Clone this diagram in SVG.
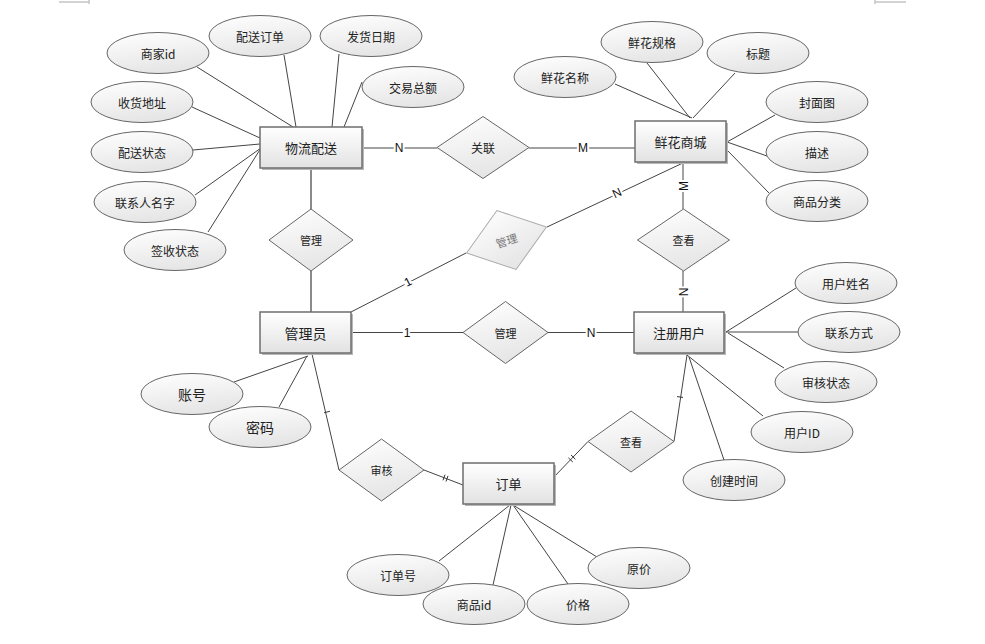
<svg xmlns="http://www.w3.org/2000/svg" width="985" height="644" viewBox="0 0 985 644">
<defs>
<linearGradient id="gr" x1="0" y1="0" x2="0" y2="1"><stop offset="0" stop-color="#ffffff"/><stop offset="1" stop-color="#e2e2e2"/></linearGradient>
<linearGradient id="ge" x1="0" y1="0" x2="0.3" y2="1"><stop offset="0" stop-color="#ffffff"/><stop offset="1" stop-color="#e6e6e6"/></linearGradient>
<style>
.ent rect.b{fill:url(#gr);stroke:#6e6e6e;stroke-width:1.5}
.ent rect.s{fill:#b8b8b8}
.att ellipse{fill:url(#ge);stroke:#666;stroke-width:1}
.rel polygon{fill:url(#ge);stroke:#666;stroke-width:1}
text{font-family:"Noto Sans CJK SC","Liberation Sans",sans-serif;text-anchor:middle;dominant-baseline:central;fill:#222}
.t12{font-size:12px}
.t13{font-size:13px}
.t14{font-size:14px}
.t11{font-size:11px}
.conn line{stroke:#444;stroke-width:1}
.conn line.thick{stroke:#8a8a8a;stroke-width:2}
.conn line.tk{stroke:#333;stroke-width:1}
.card{font-family:"Liberation Sans",Arial,sans-serif;font-size:12px;fill:#111;stroke:#fff;stroke-width:4;paint-order:stroke}
.mark{stroke:#c4c4c4;stroke-width:1.5}
</style>
</defs>
<rect x="0" y="0" width="985" height="644" fill="#fff"/>
<line class="mark" x1="59" y1="2" x2="89" y2="2"/><line class="mark" x1="89" y1="0" x2="89" y2="4"/>
<line class="mark" x1="875" y1="2" x2="906" y2="2"/><line class="mark" x1="875" y1="0" x2="875" y2="4"/>

<g id="connectors" class="conn">
<line x1="197" y1="67" x2="293" y2="127"/>
<line x1="284" y1="55" x2="296" y2="127"/>
<line x1="339" y1="54" x2="332" y2="127"/>
<line x1="362" y1="82" x2="344" y2="127"/>
<line x1="192" y1="107" x2="260" y2="138"/>
<line x1="193" y1="150" x2="260" y2="144"/>
<line x1="195" y1="195" x2="261" y2="148"/>
<line x1="208" y1="232" x2="261" y2="148"/>
<line x1="362" y1="148" x2="437" y2="148"/>
<line x1="529" y1="148" x2="635" y2="148"/>
<line class="thick" x1="311" y1="168" x2="311" y2="209"/>
<line class="thick" x1="311" y1="271" x2="311" y2="312"/>
<line x1="615" y1="84" x2="692" y2="118"/>
<line x1="647" y1="63" x2="690" y2="118"/>
<line x1="735" y1="73" x2="693" y2="118"/>
<line x1="775" y1="115" x2="727" y2="142"/>
<line x1="767" y1="156" x2="727" y2="142"/>
<line x1="769" y1="193" x2="727" y2="150"/>
<line x1="683" y1="162" x2="683" y2="209"/>
<line x1="683" y1="271" x2="683" y2="312"/>
<line x1="351" y1="312" x2="466" y2="253"/>
<line x1="547" y1="227" x2="685" y2="162"/>
<line x1="351" y1="332.5" x2="463" y2="332.5"/>
<line x1="548" y1="332.5" x2="634" y2="332.5"/>
<line x1="726" y1="332" x2="796" y2="288"/>
<line x1="726" y1="332" x2="798" y2="332"/>
<line x1="728" y1="333" x2="784" y2="368"/>
<line x1="687" y1="355" x2="763" y2="416"/>
<line x1="689" y1="357" x2="724" y2="460"/>
<line x1="687" y1="355" x2="674" y2="441.5"/>
<line x1="588" y1="441.5" x2="554" y2="477"/>
<line x1="312" y1="354" x2="339" y2="470"/>
<line x1="424" y1="470" x2="463" y2="485"/>
<line x1="234" y1="382" x2="308" y2="356"/>
<line x1="279" y1="407" x2="307" y2="356"/>
<line x1="439" y1="561" x2="510" y2="505"/>
<line x1="493" y1="585" x2="511" y2="505"/>
<line x1="568" y1="584" x2="513" y2="505"/>
<line x1="597" y1="557" x2="513" y2="505"/>
<line class="tk" x1="677" y1="396.6" x2="683" y2="397.4"/>
<line class="tk" x1="571" y1="455" x2="575.4" y2="459.2"/>
<line class="tk" x1="568.4" y1="457.8" x2="572.8" y2="462"/>
<line class="tk" x1="445" y1="474.7" x2="443" y2="480.3"/>
<line class="tk" x1="448" y1="475.9" x2="446" y2="481.5"/>
<line class="tk" x1="324.1" y1="412.7" x2="329.9" y2="411.3"/>
<text class="card" x="399" y="148">N</text>
<text class="card" x="583" y="148">M</text>
<text class="card" transform="translate(684,186) rotate(-90)">M</text>
<text class="card" transform="translate(684,292) rotate(-90)">N</text>
<text class="card" transform="translate(408,282) rotate(-27)">1</text>
<text class="card" transform="translate(617,193) rotate(-25)">N</text>
<text class="card" x="407" y="332.5">1</text>
<text class="card" x="591" y="332.5">N</text>
</g>

<g id="e-wuliu" class="ent"><rect class="s" x="262" y="129" width="102" height="41"/><rect class="b" x="260" y="127" width="102" height="41"/><text class="t13" x="311" y="147.5">物流配送</text></g>
<g id="e-shangcheng" class="ent"><rect class="s" x="637" y="123" width="91" height="41"/><rect class="b" x="635" y="121" width="91" height="41"/><text class="t13" x="680.5" y="141.5">鲜花商城</text></g>
<g id="e-guanliyuan" class="ent"><rect class="s" x="262" y="314" width="91" height="41"/><rect class="b" x="260" y="312" width="91" height="41"/><text class="t14" x="305.5" y="332.5">管理员</text></g>
<g id="e-yonghu" class="ent"><rect class="s" x="636" y="314" width="90" height="41"/><rect class="b" x="634" y="312" width="90" height="41"/><text class="t13" x="679" y="332.5">注册用户</text></g>
<g id="e-dingdan" class="ent"><rect class="s" x="465" y="465" width="91" height="41"/><rect class="b" x="463" y="463" width="91" height="41"/><text class="t13" x="508.5" y="483.5">订单</text></g>

<g id="r-guanlian" class="rel"><polygon points="437,147.5 483,116.5 529,147.5 483,178.5"/><text class="t12" x="483" y="147.5">关联</text></g>
<g id="r-guanli1" class="rel"><polygon points="269,240 311,209 353,240 311,271"/><text class="t11" x="311" y="240">管理</text></g>
<g id="r-guanli2" class="rel" transform="translate(506.5,240) rotate(-18)"><polygon points="-42,0 0,-31 42,0 0,31" style="stroke:#aaa"/><text class="t11" x="0" y="0" style="fill:#777">管理</text></g>
<g id="r-chakan1" class="rel"><polygon points="637.5,240 683.5,209 729.5,240 683.5,271"/><text class="t11" x="683.5" y="240">查看</text></g>
<g id="r-guanli3" class="rel"><polygon points="463,332.5 505.5,301.5 548,332.5 505.5,363.5"/><text class="t11" x="505.5" y="332.5">管理</text></g>
<g id="r-shenhe" class="rel"><polygon points="339,470 381.5,439 424,470 381.5,501"/><text class="t11" x="381.5" y="470">审核</text></g>
<g id="r-chakan2" class="rel"><polygon points="588,441.5 631,411 674,441.5 631,472"/><text class="t11" x="631" y="441.5">查看</text></g>

<g id="a-shangjiaid" class="att"><ellipse cx="158" cy="53" rx="51" ry="20.5"/><text class="t12" x="158" y="53">商家id</text></g>
<g id="a-peisongdingdan" class="att"><ellipse cx="260" cy="36" rx="51" ry="20.5"/><text class="t12" x="260" y="36">配送订单</text></g>
<g id="a-fahuoriqi" class="att"><ellipse cx="371" cy="36" rx="51" ry="20.5"/><text class="t12" x="371" y="36">发货日期</text></g>
<g id="a-jiaoyizonge" class="att"><ellipse cx="413" cy="87" rx="51" ry="20.5"/><text class="t12" x="413" y="87">交易总额</text></g>
<g id="a-shouhuodizhi" class="att"><ellipse cx="142" cy="102" rx="51" ry="20.5"/><text class="t12" x="142" y="102">收货地址</text></g>
<g id="a-peisongzhuangtai" class="att"><ellipse cx="142" cy="152" rx="51" ry="20.5"/><text class="t12" x="142" y="152">配送状态</text></g>
<g id="a-lianxiren" class="att"><ellipse cx="145" cy="202" rx="51" ry="20.5"/><text class="t12" x="145" y="202">联系人名字</text></g>
<g id="a-qianshou" class="att"><ellipse cx="175" cy="250" rx="51" ry="20.5"/><text class="t12" x="175" y="250">签收状态</text></g>
<g id="a-xianhuamingcheng" class="att"><ellipse cx="565" cy="77" rx="51" ry="20.5"/><text class="t12" x="565" y="77">鲜花名称</text></g>
<g id="a-xianhuaguige" class="att"><ellipse cx="652" cy="42" rx="51" ry="20.5"/><text class="t12" x="652" y="42">鲜花规格</text></g>
<g id="a-biaoti" class="att"><ellipse cx="758" cy="53" rx="51" ry="20.5"/><text class="t12" x="758" y="53">标题</text></g>
<g id="a-fengmian" class="att"><ellipse cx="817" cy="102" rx="51" ry="20.5"/><text class="t12" x="817" y="102">封面图</text></g>
<g id="a-miaoshu" class="att"><ellipse cx="817" cy="152" rx="51" ry="20.5"/><text class="t12" x="817" y="152">描述</text></g>
<g id="a-fenlei" class="att"><ellipse cx="817" cy="201" rx="51" ry="20.5"/><text class="t12" x="817" y="201">商品分类</text></g>
<g id="a-zhanghao" class="att"><ellipse cx="192" cy="394" rx="51" ry="20.5"/><text class="t14" x="192" y="394">账号</text></g>
<g id="a-mima" class="att"><ellipse cx="260" cy="427" rx="51" ry="20.5"/><text class="t14" x="260" y="427">密码</text></g>
<g id="a-yonghuxingming" class="att"><ellipse cx="846" cy="283" rx="51" ry="20.5"/><text class="t12" x="846" y="283">用户姓名</text></g>
<g id="a-lianxifangshi" class="att"><ellipse cx="849" cy="332" rx="51" ry="20.5"/><text class="t12" x="849" y="332">联系方式</text></g>
<g id="a-shenhezhuangtai" class="att"><ellipse cx="826" cy="382" rx="51" ry="20.5"/><text class="t12" x="826" y="382">审核状态</text></g>
<g id="a-yonghuid" class="att"><ellipse cx="802" cy="432" rx="51" ry="20.5"/><text class="t12" x="802" y="432">用户ID</text></g>
<g id="a-chuangjianshijian" class="att"><ellipse cx="734" cy="480" rx="51" ry="20.5"/><text class="t12" x="734" y="480">创建时间</text></g>
<g id="a-dingdanhao" class="att"><ellipse cx="398" cy="575" rx="51" ry="20.5"/><text class="t12" x="398" y="575">订单号</text></g>
<g id="a-shangpinid" class="att"><ellipse cx="474" cy="604" rx="51" ry="20.5"/><text class="t12" x="474" y="604">商品id</text></g>
<g id="a-jiage" class="att"><ellipse cx="578" cy="604" rx="51" ry="20.5"/><text class="t12" x="578" y="604">价格</text></g>
<g id="a-yuanjia" class="att"><ellipse cx="639" cy="568" rx="51" ry="20.5"/><text class="t12" x="639" y="568">原价</text></g>
</svg>
